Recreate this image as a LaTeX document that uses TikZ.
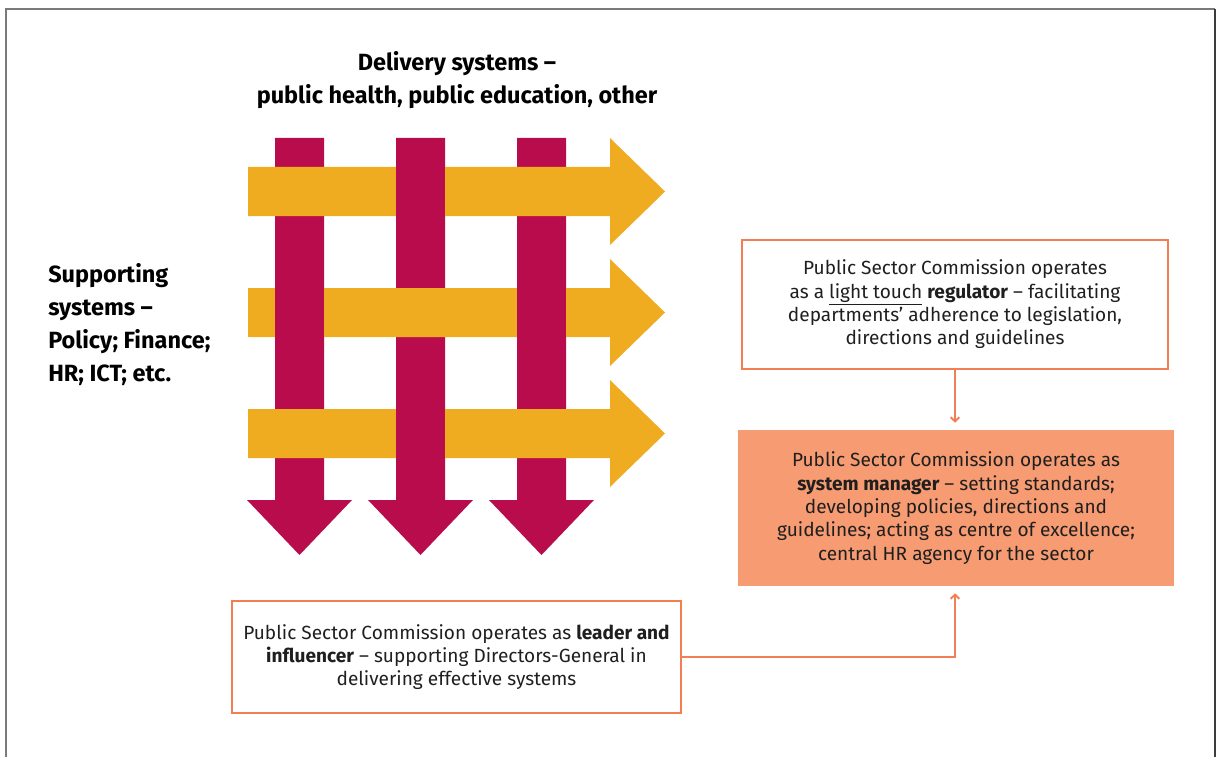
\documentclass[tikz,border=0pt]{standalone}
\usepackage{fontspec}
\setmainfont{Fira Sans}
\usetikzlibrary{arrows.meta}
\definecolor{weavered}{HTML}{B80C4C}
\definecolor{weaveorange}{HTML}{EFAC21}
\definecolor{coral}{HTML}{F47E53}
\definecolor{coralfill}{HTML}{F79B72}
\definecolor{framegray}{HTML}{7A7A7A}
\definecolor{framedark}{HTML}{3C3C3C}
\tikzset{
  rolebox/.style={draw=coral, line width=1.9pt, align=center, inner sep=0pt,
    font=\fontsize{14.3}{17.5}\selectfont, text=black!88},
  conn/.style={draw=coral, line width=1.6pt,
    -{Straight Barb[length=3.2pt,width=6.5pt,line width=1.4pt]}, shorten >=4.5pt},
  heading/.style={font=\bfseries\fontsize{17.6}{24.8}\selectfont, align=center, inner sep=0pt},
  sidelabel/.style={font=\bfseries\fontsize{17.6}{24.8}\selectfont, align=left, inner sep=0pt, anchor=west},
}
\begin{document}
\begin{tikzpicture}[x=0.75pt, y=-0.75pt]
  \useasboundingbox (0,0) rectangle (1216,756);
  % outer frame (open at the bottom)
  \draw[framegray, line width=1.5pt] (6,760) -- (6,9) -- (1215,9);
  \draw[framedark, line width=1.5pt] (1215,9) -- (1215,760);

  % vertical (delivery) arrows
  \foreach \L in {275,396,517} {
    \fill[weavered] (\L,138) -- (\L+49,138) -- (\L+49,500) -- (\L+77,500)
      -- (\L+24.5,555) -- (\L-28,500) -- (\L,500) -- cycle;
  }
  % horizontal (supporting) arrows
  \foreach \T in {167,288,409} {
    \fill[weaveorange] (248,\T) -- (610,\T) -- (610,\T-29) -- (665,\T+24.5)
      -- (610,\T+78) -- (610,\T+49) -- (248,\T+49) -- cycle;
  }
  % crossings where the vertical arrows pass over
  \fill[weavered] (396,166.5) rectangle (445,216.5);
  \fill[weavered] (396,408.5) rectangle (445,458.5);
  \fill[weavered] (275,287.5) rectangle (324,337.5);
  \fill[weavered] (517,287.5) rectangle (566,337.5);

  % headings
  \node[heading] (deliv) at (457,80) {Delivery systems --\\public health, public education, other};
  \node[sidelabel] (supp) at (48,324.5) {Supporting\\systems --\\Policy; Finance;\\HR; ICT; etc.};

  % role boxes
  \node[rolebox, minimum width=319.5pt, minimum height=96.75pt] (reg) at (955,304.5)
    {Public Sector Commission operates\\as a \underline{light touch} \textbf{regulator} -- facilitating\\departments’ adherence to legislation,\\directions and guidelines};
  \node[rolebox, fill=coralfill, draw=none, minimum width=327pt, minimum height=117pt] (mgr) at (956,508)
    {Public Sector Commission operates as\\\textbf{system manager} -- setting standards;\\developing policies, directions and\\guidelines; acting as centre of excellence;\\central HR agency for the sector};
  \node[rolebox, minimum width=336.75pt, minimum height=84pt] (lead) at (456.5,657)
    {Public Sector Commission operates as \textbf{leader and}\\\textbf{influencer} -- supporting Directors-General in\\delivering effective systems};

  % connectors
  \draw[conn] (reg.south) -- (reg.south |- mgr.north);
  \draw[conn] (lead.east) -| (reg.south |- mgr.south);
\end{tikzpicture}
\end{document}
